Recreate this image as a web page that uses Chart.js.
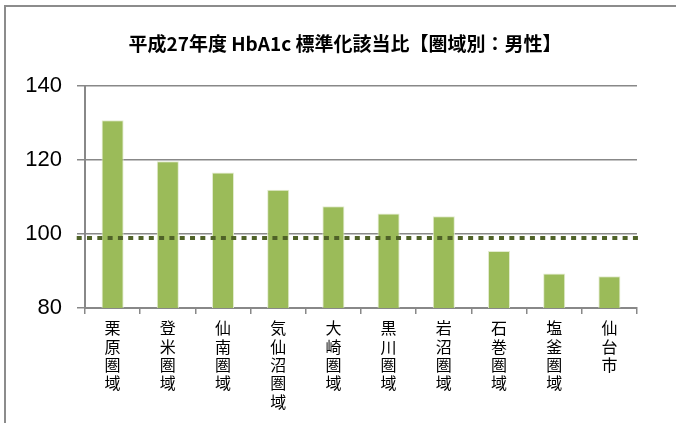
<!DOCTYPE html>
<html>
<head>
<meta charset="utf-8">
<script src="https://cdn.jsdelivr.net/npm/chart.js@4/dist/chart.umd.min.js"></script>
<style>
  html, body { margin: 0; padding: 0; background: #fff; overflow: hidden; }
  #wrap { position: relative; width: 676px; height: 423px; }
  #frame { position: absolute; left: 4px; top: 5px; width: 700px; height: 440px;
           border-top: 2px solid #8c8c8c; border-left: 2px solid #8c8c8c; pointer-events: none; }
  canvas { position: absolute; left: 0; top: 0; }
</style>
</head>
<body>
<div id="wrap">
  <canvas id="c" width="676" height="423"></canvas>
  <div id="frame"></div>
</div>
<script>
// 圏域名
const areas = ['栗原圏域', '登米圏域', '仙南圏域', '気仙沼圏域', '大崎圏域',
               '黒川圏域', '岩沼圏域', '石巻圏域', '塩釜圏域', '仙台市'];
// 標準化該当比（男性）
const ratios = [130.7, 119.6, 116.6, 111.9, 107.5, 105.5, 104.8, 95.4, 89.3, 88.6];
// 県全体の基準線
const prefLevel = 98.9;
const yTicks = [80, 100, 120, 140];
const titleText = '平成27年度 HbA1c 標準化該当比【圏域別：男性】';

const cjk = '"Noto Sans CJK JP", "Noto Sans CJK SC", sans-serif';

new Chart(document.getElementById('c'), {
  type: 'bar',
  data: {
    labels: areas.map(a => a.split('')),
    datasets: [
      {
        type: 'line',
        xAxisID: 'x2',
        data: [{ x: -0.15, y: prefLevel }, { x: 10.05, y: prefLevel }],
        borderColor: '#4f6228',
        borderWidth: 4,
        borderDash: [5, 5.3],
        borderCapStyle: 'butt',
        pointRadius: 0,
        clip: false,
        order: 0
      },
      {
        type: 'bar',
        xAxisID: 'x',
        data: ratios,
        backgroundColor: '#9bbb59',
        borderColor: '#e3ecd0',
        borderWidth: 1,
        grouped: false,
        barPercentage: 0.4,
        categoryPercentage: 1.0,
        order: 1
      }
    ]
  },
  options: {
    responsive: false,
    animation: false,
    layout: { padding: { left: 14, right: 0, top: 0, bottom: 0 } },
    plugins: {
      legend: { display: false },
      tooltip: { enabled: false },
      title: {
        display: true,
        text: titleText,
        color: '#000',
        font: { family: cjk, size: 19, weight: 'bold' },
        padding: { top: 32, bottom: 31 }
      }
    },
    scales: {
      x: {
        type: 'category',
        offset: true,
        grid: { display: true, drawOnChartArea: false, drawTicks: true, tickLength: 6,
                offset: true, color: '#888', lineWidth: 1.5 },
        border: { display: true, color: '#888', width: 2 },
        ticks: { color: '#000', maxRotation: 0, minRotation: 0, autoSkip: false, padding: 5,
                 font: { family: cjk, size: 16, lineHeight: 1.15 } },
        afterFit: s => { s.height = 115; }
      },
      x2: {
        type: 'linear',
        display: false,
        offset: false,
        min: 0,
        max: 10
      },
      y: {
        min: 80,
        max: 140,
        afterBuildTicks: s => { s.ticks = yTicks.map(v => ({ value: v })); },
        grid: { color: '#888', lineWidth: 1.5, tickLength: 8, drawTicks: true },
        border: { display: true, color: '#888', width: 2 },
        ticks: { color: '#000', padding: 15,
                 font: { family: '"Liberation Sans", Arial, sans-serif', size: 22 } },
        afterFit: s => { s.width = 71; }
      },
      // 右側の余白を確保するための非表示軸
      yRight: {
        position: 'right',
        min: 80,
        max: 140,
        grid: { display: false, drawOnChartArea: false },
        border: { display: false },
        ticks: { display: false },
        afterFit: s => { s.width = 39; }
      }
    }
  }
});
</script>
</body>
</html>
